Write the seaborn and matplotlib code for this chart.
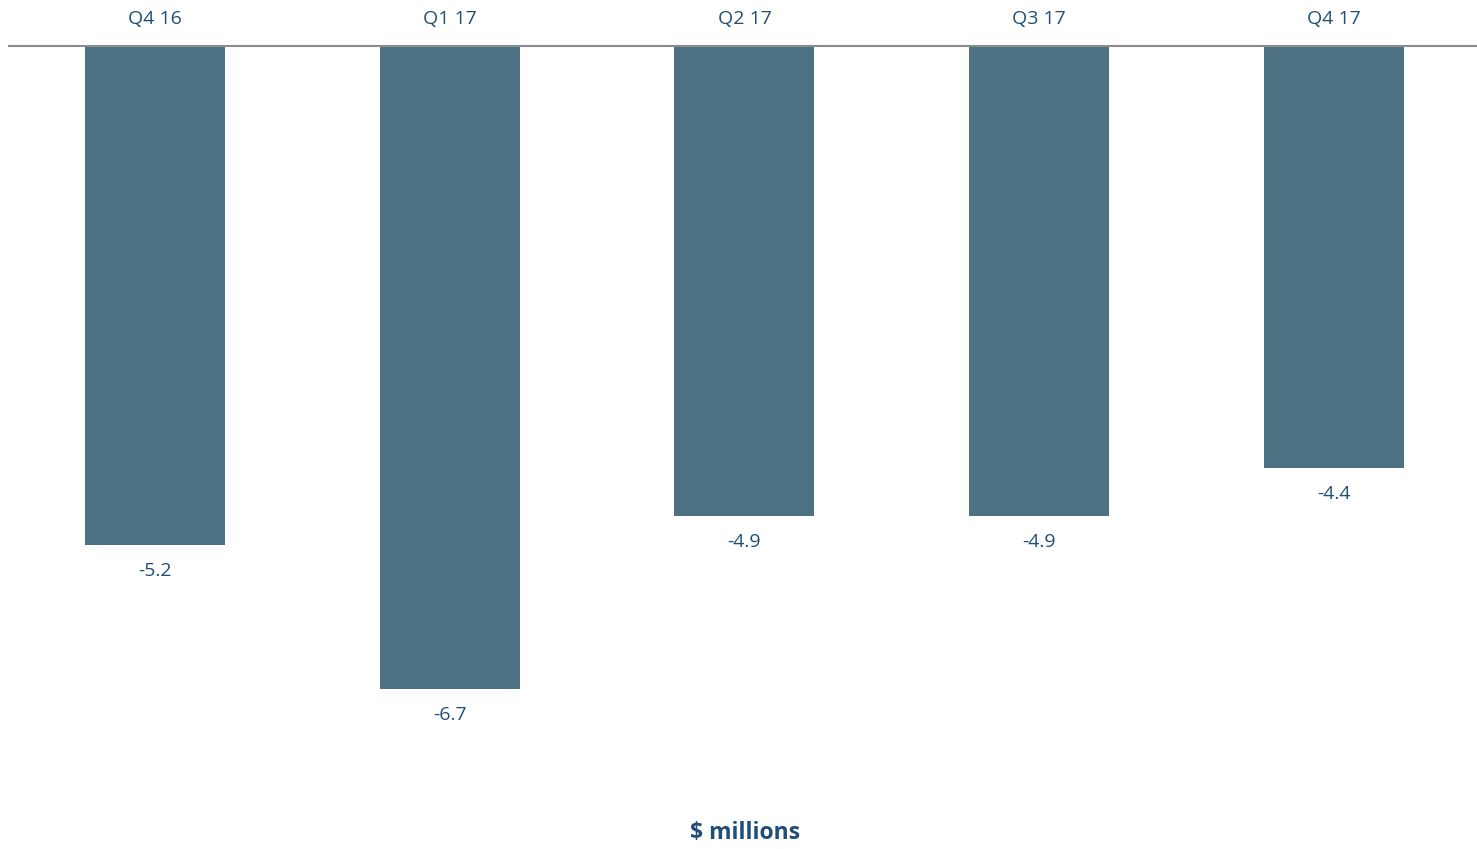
import matplotlib
matplotlib.use("Agg")
import matplotlib.pyplot as plt
import seaborn as sns
import pandas as pd

categories = ["Q4 16", "Q1 17", "Q2 17", "Q3 17", "Q4 17"]
values = [-5.2, -6.7, -4.9, -4.9, -4.4]
value_labels = ["-5.2", "-6.7", "-4.9", "-4.9", "-4.4"]
axis_title = "$ millions"

sns.set_theme(style="white")
plt.rcParams['font.family'] = ['Open Sans', 'DejaVu Sans']

BAR = "#4D7284"
TXT = "#1F4E79"

fig = plt.figure(figsize=(14.77, 8.49), dpi=100)
ax = fig.add_axes([9/1477, 1 - 760/849, (1477 - 9)/1477, (760 - 46)/849])

df = pd.DataFrame({"cat": categories, "val": values})
sns.barplot(data=df, x="cat", y="val", color=BAR, saturation=1, width=0.475,
            linewidth=0, ax=ax)

ax.set_xlim(-0.495, 4.485)
ax.set_ylim(-7.44, 0)
for s in ["left", "right", "bottom"]:
    ax.spines[s].set_visible(False)
ax.spines["top"].set_visible(True)
ax.spines["top"].set_color("#8C8C8C")
ax.spines["top"].set_linewidth(1.5)
ax.xaxis.tick_top()
ax.tick_params(axis="x", length=0, pad=13, labelsize=14, labelcolor=TXT)
ax.set_yticks([])
ax.set_xlabel("")
ax.set_ylabel("")

for i, (v, lab) in enumerate(zip(values, value_labels)):
    ax.annotate(lab, (i, v), xytext=(0, -26), textcoords="offset pixels",
                ha="center", va="center", fontsize=14, color=TXT)

fig.text(745/1477, 1 - 833/849, axis_title, ha="center", va="center",
         fontsize=16.5, fontweight="bold", color=TXT)

fig.savefig("out.png", dpi=100)
